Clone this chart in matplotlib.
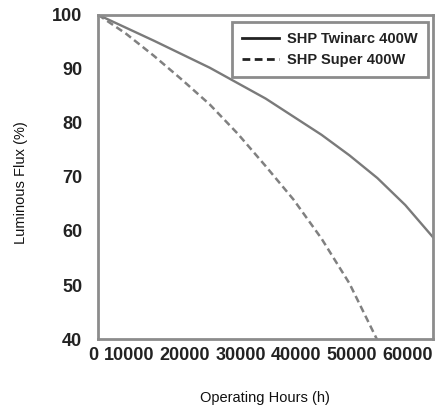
import matplotlib.pyplot as plt

# values
twinarc_hours = [0, 10000, 20000, 30000, 40000, 45000, 50000, 55000, 60000]
twinarc_flux = [100, 95.2, 90.2, 84.5, 77.8, 74.0, 69.8, 64.8, 58.8]
super_hours = [0, 5000, 10000, 15000, 20000, 25000, 30000, 35000, 40000, 45000, 50000]
super_flux = [100, 96.5, 92.4, 88, 83.4, 78, 72, 65.8, 58.6, 50.3, 39.8]
xticks = [0, 10000, 20000, 30000, 40000, 50000, 60000]
yticks = [40, 50, 60, 70, 80, 90, 100]

plt.rcParams['font.family'] = ['Liberation Sans', 'DejaVu Sans']

fig = plt.figure(figsize=(4.38, 4.11), dpi=100)
ax = fig.add_axes([0.224, 0.175, 0.765, 0.789])

ax.plot(twinarc_hours, twinarc_flux, color='#7a7a7a', lw=1.7, label='SHP Twinarc 400W')
ax.plot(super_hours, super_flux, color='#808080', lw=1.8, dashes=(2.8, 1.6), label='SHP Super 400W')

ax.set_xlim(0, 60000)
ax.set_ylim(40, 100)
ax.set_xticks(xticks)
ax.set_yticks(yticks)
ax.set_xticklabels([str(t) for t in xticks], fontsize=13, fontweight='bold', color='#222222', ha='right')
ax.set_yticklabels([str(t) for t in yticks], fontsize=13, fontweight='bold', color='#222222')
ax.tick_params(length=0)
ax.tick_params(axis='y', pad=11.5)
ax.tick_params(axis='x', pad=6)
for s in ax.spines.values():
    s.set_color('#8c8c8c')
    s.set_linewidth(2)

fig.text(0.048, 0.555, 'Luminous Flux (%)', rotation=90, ha='center', va='center', fontsize=10.5, color='#111111')
fig.text(0.605, 0.032, 'Operating Hours (h)', ha='center', va='center', fontsize=10.5, color='#111111')

leg = ax.legend(loc='upper right', bbox_to_anchor=(0.985, 0.978), borderaxespad=0,
                prop={'weight': 'bold', 'size': 10.5},
                fancybox=False, framealpha=1, edgecolor='#8c8c8c', handlelength=2.5,
                borderpad=0.7, labelspacing=0.45, handletextpad=0.6)
leg.get_frame().set_linewidth(2)
for h in leg.get_lines():
    h.set_color('#222222')
    h.set_linewidth(2)
for t in leg.get_texts():
    t.set_color('#222222')

fig.savefig('out.png', dpi=100)
